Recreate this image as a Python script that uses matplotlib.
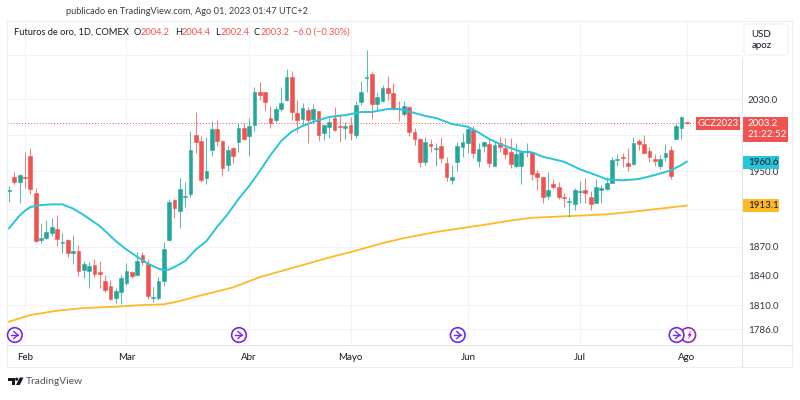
import matplotlib
matplotlib.use("Agg")
import matplotlib.pyplot as plt
import numpy as np
from matplotlib.patches import Circle, FancyBboxPatch, Polygon, Rectangle
from matplotlib.ticker import FixedFormatter, FixedLocator, NullLocator

plt.rcParams["font.family"] = ["Lato", "DejaVu Sans"]

# daily candles (last one is Aug 1)
opens = [
    1928.7, 1944.1, 1938.0, 1943.7, 1967.0, 1926.2, 1877.2, 1879.2, 1884.4, 1888.3,
    1873.2, 1876.8, 1862.9, 1865.3, 1846.0, 1844.9, 1850.8, 1843.3, 1834.4, 1829.6,
    1817.4, 1823.5, 1832.7, 1843.3, 1840.8, 1860.8, 1852.2, 1816.8, 1816.8, 1834.7,
    1876.5, 1919.0, 1907.7, 1921.9, 1925.5, 1989.8, 1983.1, 1942.7, 1973.2, 1996.1,
    1983.1, 1956.8, 1975.7, 1982.0, 1997.5, 1988.7, 2001.1, 2038.3, 2037.6, 2009.0,
    2006.4, 2018.4, 2028.9, 2054.7, 2014.3, 2007.5, 2017.7, 2007.5, 2016.5, 1991.6,
    1998.6, 2008.3, 2000.0, 1997.2, 2000.5, 1989.8, 2026.3, 2054.2, 2058.1, 2024.1,
    2027.8, 2042.2, 2036.5, 2020.2, 2013.2, 2021.4, 1993.4, 1985.3, 1959.8, 1979.5,
    1974.0, 1977.6, 1959.3, 1940.8, 1960.4, 1976.8, 1980.6, 1995.3, 1961.5, 1977.9,
    1979.8, 1955.7, 1980.6, 1975.7, 1971.3, 1956.0, 1956.0, 1970.7, 1971.0, 1948.4,
    1943.4, 1923.0, 1936.2, 1933.0, 1922.5, 1916.6, 1915.1, 1927.6, 1929.8, 1922.5,
    1915.8, 1929.8, 1930.5, 1937.6, 1962.6, 1965.9, 1959.0, 1957.9, 1983.1, 1979.8,
    1972.1, 1963.7, 1956.0, 1965.2, 1973.2, 1985.0, 1997.2, 2004.2,
]
highs = [
    1934.1, 1949.5, 1947.0, 1970.7, 1975.1, 1931.6, 1894.6, 1897.8, 1899.9, 1902.8,
    1883.8, 1877.8, 1882.0, 1871.5, 1855.3, 1853.6, 1856.7, 1855.0, 1840.5, 1835.4,
    1827.0, 1840.5, 1852.6, 1844.6, 1863.9, 1864.5, 1856.7, 1828.6, 1838.8, 1874.4,
    1919.7, 1920.0, 1942.4, 1938.0, 1994.2, 2015.4, 1988.7, 1987.2, 2005.6, 2006.4,
    1984.2, 1977.6, 1976.8, 2002.7, 2003.0, 2008.3, 2044.0, 2049.7, 2038.3, 2022.2,
    2022.5, 2044.0, 2064.2, 2061.9, 2028.9, 2025.2, 2021.4, 2024.1, 2016.9, 2001.6,
    2009.0, 2020.7, 2013.2, 2003.8, 2010.1, 2027.8, 2050.5, 2086.1, 2061.1, 2037.6,
    2045.9, 2056.2, 2048.6, 2027.8, 2027.8, 2022.5, 1997.2, 1986.1, 1987.2, 1985.0,
    1981.3, 1987.9, 1965.2, 1956.8, 1982.4, 1992.3, 1999.7, 1999.7, 1980.6, 1983.1,
    1986.1, 1982.4, 1987.9, 1986.1, 1986.8, 1981.3, 1973.2, 1980.6, 1971.3, 1950.9,
    1944.1, 1949.0, 1941.6, 1938.4, 1926.2, 1922.5, 1931.6, 1939.8, 1943.0, 1929.0,
    1941.6, 1935.1, 1943.7, 1965.9, 1968.5, 1969.6, 1975.1, 1987.9, 1985.0, 1989.8,
    1976.2, 1968.5, 1967.7, 1979.8, 1977.9, 2001.5, 2011.3, 2004.4,
]
lows = [
    1916.9, 1935.9, 1915.8, 1931.6, 1925.5, 1874.4, 1873.7, 1877.5, 1881.3, 1870.5,
    1863.5, 1859.4, 1851.9, 1839.5, 1837.1, 1827.6, 1838.8, 1827.0, 1823.5, 1815.1,
    1811.8, 1810.8, 1830.3, 1837.1, 1840.2, 1850.5, 1816.5, 1813.4, 1815.1, 1829.6,
    1876.0, 1900.2, 1889.7, 1911.9, 1922.5, 1970.3, 1938.7, 1936.2, 1967.0, 1977.6,
    1944.8, 1950.3, 1959.3, 1971.3, 1984.2, 1966.6, 1994.5, 2028.9, 2016.5, 1997.2,
    2003.8, 2016.9, 2028.1, 2006.4, 1993.4, 2000.8, 1981.3, 2001.6, 1983.1, 1984.2,
    1986.1, 1994.2, 1982.4, 1985.0, 1984.2, 1986.1, 2023.3, 2038.3, 2007.5, 2017.7,
    2027.0, 2028.9, 2017.7, 2005.3, 2010.9, 1988.7, 1978.7, 1954.3, 1956.8, 1970.7,
    1956.1, 1959.3, 1939.4, 1936.2, 1950.3, 1965.9, 1969.6, 1964.1, 1955.0, 1970.7,
    1954.3, 1955.2, 1971.3, 1963.0, 1953.9, 1953.2, 1936.2, 1965.9, 1940.5, 1929.8,
    1915.8, 1919.8, 1930.8, 1920.1, 1911.9, 1901.3, 1908.4, 1915.5, 1915.5, 1908.4,
    1915.5, 1916.3, 1929.8, 1937.0, 1956.0, 1955.0, 1950.6, 1956.8, 1973.2, 1968.5,
    1959.8, 1955.7, 1952.5, 1961.5, 1941.6, 1984.8, 1985.3, 2002.4,
]
closes = [
    1929.8, 1938.0, 1945.9, 1942.7, 1930.5, 1876.0, 1879.2, 1885.2, 1890.7, 1877.8,
    1874.7, 1862.9, 1865.3, 1844.6, 1851.5, 1849.8, 1841.5, 1841.2, 1825.6, 1816.1,
    1824.6, 1837.1, 1844.6, 1839.2, 1855.0, 1853.9, 1819.2, 1818.2, 1834.4, 1867.0,
    1916.9, 1910.2, 1931.2, 1923.3, 1973.2, 1982.0, 1940.5, 1949.9, 1996.1, 1982.8,
    1953.5, 1973.2, 1966.6, 1997.5, 1985.3, 2000.0, 2038.3, 2034.9, 2026.3, 2003.0,
    2018.8, 2025.2, 2055.4, 2015.7, 2006.4, 2019.6, 2006.4, 2018.8, 1989.8, 2000.5,
    2004.5, 1995.3, 1998.6, 1999.4, 1991.6, 2023.3, 2037.6, 2055.4, 2024.4, 2032.6,
    2042.9, 2036.5, 2019.6, 2018.8, 2022.5, 1992.7, 1985.0, 1959.8, 1982.0, 1977.3,
    1975.4, 1964.1, 1943.4, 1943.7, 1977.6, 1982.0, 1996.1, 1969.6, 1974.0, 1982.0,
    1958.7, 1978.4, 1976.8, 1968.8, 1957.6, 1968.8, 1971.3, 1972.1, 1946.6, 1943.7,
    1922.5, 1929.8, 1933.0, 1922.5, 1921.2, 1917.6, 1929.8, 1929.0, 1926.5, 1914.4,
    1933.0, 1931.9, 1937.3, 1962.3, 1963.7, 1964.1, 1955.7, 1980.9, 1980.2, 1969.6,
    1965.6, 1961.5, 1963.4, 1970.3, 1945.1, 2000.0, 2009.5, 2003.2,
]

# moving averages, sampled along the drawn lines
ma_fast_idx = [0, 2, 3, 4, 6, 8, 10, 12, 14, 17, 20, 22, 24, 26, 28, 29, 30, 31, 33, 35,
               37, 39, 41, 43, 45, 47, 49, 51, 53, 55, 57, 60, 63, 66, 68, 71, 73, 75,
               78, 80, 83, 86, 88, 90, 92, 94, 96, 98, 100, 104, 107, 110, 112, 115,
               118, 121, 124, 126, 127]
ma_fast = [1889.0, 1902.6, 1907.7, 1911.6, 1913.7, 1914.4, 1914.4, 1910.0, 1903.1, 1891.5,
           1875.7, 1867.0, 1859.4, 1852.4, 1847.2, 1845.7, 1846.2, 1848.8, 1855.0, 1866.8,
           1875.7, 1890.7, 1904.2, 1920.1, 1934.1, 1950.3, 1967.7, 1983.1, 1993.6, 1999.7,
           2004.5, 2009.8, 2011.9, 2015.4, 2015.4, 2018.8, 2018.8, 2016.0, 2011.0, 2008.7,
           2002.0, 1998.9, 1992.5, 1985.3, 1979.8, 1975.4, 1971.3, 1970.7, 1965.9, 1960.4,
           1952.1, 1945.9, 1941.3, 1940.2, 1941.6, 1945.9, 1950.9, 1956.8, 1960.6]
ma_slow_idx = [0, 4, 9, 14, 20, 25, 29, 32, 35, 38, 42, 47, 55, 61, 64, 70, 74, 80, 85, 90,
               94, 98, 105, 112, 118, 122, 127]
ma_slow = [1793.4, 1800.1, 1804.4, 1807.1, 1808.4, 1810.1, 1810.8, 1814.1, 1818.6, 1822.6,
           1828.0, 1838.5, 1850.8, 1860.1, 1864.2, 1873.6, 1878.8, 1885.2, 1889.4, 1893.6,
           1897.3, 1900.2, 1902.0, 1903.8, 1907.3, 1909.9, 1913.1]

month_idx = [3, 22, 45, 64, 86, 107, 127]
month_labels = ["Feb", "Mar", "Abr", "Mayo", "Jun", "Jul", "Ago"]
grid_prices = [2080, 2030, 1990, 1950, 1910, 1870, 1840, 1810, 1786]
grid_labels = ["", "2030.0", "", "1950.0", "", "1870.0", "1840.0", "1810.0", "1786.0"]
event_idx = [1, 43, 84, 125]

GREEN = "#26a69a"
RED = "#ef5350"
CYAN = "#26c6da"
YELLOW = "#ffb925"
TEXT = "#131722"
GRID = "#f1f3f8"
LINE = "#e3e5ea"

opens_a = np.array(opens)
closes_a = np.array(closes)
idx = np.arange(len(opens))
colors = [GREEN if c >= o else RED for o, c in zip(opens, closes)]

fig = plt.figure(figsize=(8, 4), dpi=100)
ax = fig.add_axes([7.3 / 800, 55 / 400, 734.4 / 800, 324 / 400])
ax.set_yscale("log")
ax.set_xlim(-0.32, 137.3)
ax.set_ylim(1770.3, 2120.1)

ax.yaxis.set_major_locator(FixedLocator(grid_prices))
ax.yaxis.set_major_formatter(FixedFormatter(grid_labels))
ax.yaxis.set_minor_locator(NullLocator())
ax.yaxis.tick_right()
ax.set_xticks(month_idx, month_labels)
ax.tick_params(length=0, labelsize=7, colors=TEXT)
ax.tick_params(axis="y", pad=4.5, labelcolor="#333742")
ax.tick_params(axis="x", pad=5.5)
ax.grid(True, color=GRID, lw=0.8)
ax.set_axisbelow(True)
for s in ax.spines.values():
    s.set_visible(False)

ax.axhline(closes[-1], color=RED, lw=0.7, ls=(0, (1, 2)), zorder=1)
ax.plot(ma_slow_idx, ma_slow, color=YELLOW, lw=1.3, zorder=2)
ax.plot(ma_fast_idx, ma_fast, color=CYAN, lw=1.4, zorder=4)
ax.vlines(idx, lows, highs, colors=colors, lw=0.75, alpha=0.75, zorder=3)
ax.bar(idx, np.abs(closes_a - opens_a), bottom=np.minimum(opens_a, closes_a), width=0.7,
       color=colors, edgecolor=colors, linewidth=0.4, zorder=3)

# everything around the plot pane, in pixels from the top left
ov = fig.add_axes([0, 0, 1, 1], zorder=5)
ov.set_xlim(0, 800)
ov.set_ylim(400, 0)
ov.axis("off")


def price_y(value):
    # pixel row of a price on the main axes
    return 400 - ax.transData.transform((0, value))[1]


def tag(y0, y1, x0, x1, color):
    ov.add_patch(Rectangle((x0, y0), x1 - x0, y1 - y0, color=color, lw=0))


# frame and axis lines
ov.add_patch(Rectangle((7.3, 21), 784.4, 345.7, fill=False, ec="#eceef2", lw=0.8))
ov.plot([7.3, 791.7], [345, 345], color=LINE, lw=0.8)
ov.plot([741.7, 741.7], [58, 366.7], color=LINE, lw=0.8)
ov.add_patch(Rectangle((742.2, 21.5), 49, 36, color="white", lw=0))
ov.add_patch(FancyBboxPatch((745.5, 25.5), 41, 28, boxstyle="round,pad=1.5,rounding_size=3",
                            fc="white", ec="#eceef2", lw=0.8))
ov.text(751.5, 34.5, "USD", fontsize=7, color=TEXT, va="center")
ov.text(751.5, 45.5, "apoz", fontsize=7, color=TEXT, va="center")

# title and OHLC header
ov.text(66, 12, "publicado en TradingView.com, Ago 01, 2023 01:47 UTC+2", fontsize=6.7,
        color="#3a3e49", va="center")
ov.text(14, 32.5, "Futuros de oro, 1D, COMEX", fontsize=6.7, color=TEXT, va="center")
for x_l, x_v, lab, val in [(134, 140.5, "O", "2004.2"), (175, 181.5, "H", "2004.4"),
                           (215, 220.5, "L", "2002.4"), (254, 260.5, "C", "2003.2")]:
    ov.text(x_l, 32.5, lab, fontsize=6.7, color=TEXT, va="center")
    ov.text(x_v, 32.5, val, fontsize=6.7, color=RED, va="center")
ov.text(293, 32.5, "\u22126.0 (\u22120.30%)", fontsize=6.7, color=RED, va="center")

# price tags on the right
y_last = price_y(closes[-1])
tag(y_last - 5.7, y_last + 7, 695.7, 740, RED)
ov.text(717.8, y_last + 0.6, "GCZ2023", fontsize=6.8, color="white", ha="center", va="center")
tag(y_last - 5.7, y_last + 19, 741.7, 788, RED)
ov.text(747.5, y_last + 0.6, "2003.2", fontsize=7, color="white", va="center")
ov.text(747.5, y_last + 12, "21:22:52", fontsize=7, color="white", va="center")

y_fast = price_y(ma_fast[-1])
tag(y_fast - 6, y_fast + 7, 741.7, 779, CYAN)
ov.text(748, y_fast + 0.6, "1960.6", fontsize=7, color=TEXT, va="center")
y_slow = price_y(ma_slow[-1])
tag(y_slow - 6.5, y_slow + 6.5, 741.7, 779, YELLOW)
ov.text(748, y_slow + 0.3, "1913.1", fontsize=7, color=TEXT, va="center")

# event markers along the bottom of the pane
x_scale = 734.4 / (137.3 + 0.32)
for i in event_idx:
    cx = 7.3 + (i + 0.32) * x_scale + 0.5
    ov.add_patch(Circle((cx, 335), 7.3, fc="white", ec="#6d2bf0", lw=1.2, zorder=3))
    ov.plot([cx - 4, cx + 3], [335, 335], color="#6d2bf0", lw=1, zorder=4)
    ov.plot([cx - 1, cx + 3, cx - 1], [331.5, 335, 338.5], color="#6d2bf0", lw=1, zorder=4)
cx = 7.3 + (127 + 0.32) * x_scale
ov.add_patch(Circle((cx + 1.5, 335), 7.3, fc="white", ec="#a41fb8", lw=1.2, zorder=2))
ov.add_patch(Polygon([(cx + 4.5, 330.5), (cx + 0.8, 335.6), (cx + 2.6, 335.6), (cx + 1.2, 339.5),
                      (cx + 5, 334.2), (cx + 3.2, 334.2)], color="#a41fb8", lw=0, zorder=2))

# TradingView logo
ov.add_patch(Polygon([(8, 377.5), (15, 377.5), (15, 385), (11.5, 385), (11.5, 380.5), (8, 380.5)],
                     color="#131722", lw=0))
ov.add_patch(Circle((16.7, 379.2), 1.6, color="#131722", lw=0))
ov.add_patch(Polygon([(19.8, 377.5), (23.5, 377.5), (19.8, 385), (16, 385)], color="#131722", lw=0))
ov.text(26, 381, "TradingView", fontsize=7.4, color="#50535e", va="center")

fig.savefig("out.png", dpi=100)
